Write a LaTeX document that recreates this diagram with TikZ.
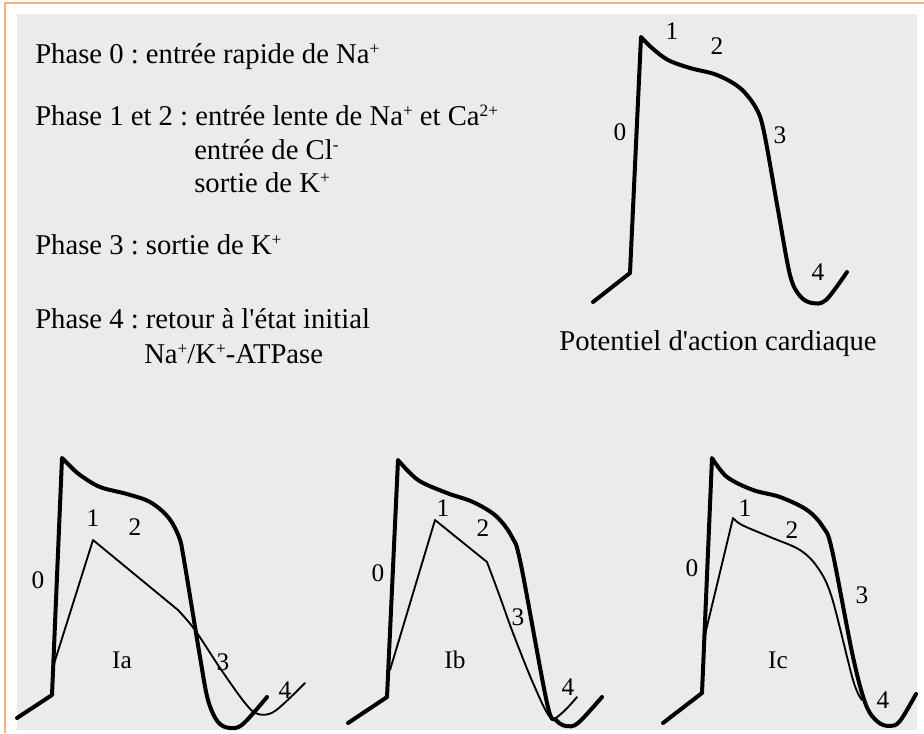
\documentclass[tikz,border=0pt]{standalone}
\usepackage{fontspec}
\setmainfont{Liberation Serif}
\frenchspacing
\definecolor{bordor}{HTML}{F7AE82}
\definecolor{panelgray}{HTML}{EBEBEB}
\newcommand\ionsup[1]{\raisebox{0.62ex}{\fontsize{13}{13}\selectfont #1}}
\begin{document}
\begin{tikzpicture}[x=0.75pt,y=-0.75pt,
  txt/.style={anchor=base west,inner sep=0pt,font=\fontsize{21.5}{25}\selectfont},
  captxt/.style={anchor=base,inner sep=0pt,font=\fontsize{21.5}{25}\selectfont},
  lbl/.style={inner sep=0pt,font=\fontsize{19}{22}\selectfont},
  apthick/.style={line width=3pt,line join=round,line cap=round},
  apthin/.style={line width=1.4pt,line join=round,line cap=round}]
\useasboundingbox (0,0) rectangle (924,733);
\fill[white] (0,0) rectangle (924,733);
\fill[panelgray] (17,14) rectangle (917,730);
\draw[bordor,line width=1.5pt] (4.5,733) -- (4.5,2.5) -- (924,2.5);

% legend text
\node[txt] (t0) at (35,63) {Phase 0 : entrée rapide de Na\ionsup{+}};
\node[txt] (t12) at (35,125) {Phase 1 et 2 : entrée lente de Na\ionsup{+} et Ca\ionsup{2+}};
\node[txt] (t12b) at (194,159) {entrée de Cl\ionsup{-}};
\node[txt] (t12c) at (194,192) {sortie de K\ionsup{+}};
\node[txt] (t3) at (35,254) {Phase 3 : sortie de K\ionsup{+}};
\node[txt] (t4) at (35,328) {Phase 4 : retour à l\textquotesingle état initial};
\node[txt] (t4b) at (144,363) {Na\ionsup{+}/K\ionsup{+}-ATPase};

% main action potential
\draw[apthick] (593,302) -- (630,273) -- (641,37) -- plot[smooth,tension=0.55] coordinates {(641,37) (652,48) (668,60) (690,68) (717,75) (740,88) (756,108) (764,132) (778,210) (790,275) (800,296) (812,303) (826,300) (847,272)};
\node[lbl] (m0) at (620,132) {0};
\node[lbl] (m1) at (672,31) {1};
\node[lbl] (m2) at (717,46) {2};
\node[lbl] (m3) at (780,135) {3};
\node[lbl] (m4) at (818,272) {4};
\node[captxt] (mcap) at (718,350) {Potentiel d\textquotesingle action cardiaque};

% Ia
\draw[apthick] (17,718) -- (52,695) -- (62,458) -- plot[smooth,tension=0.55] coordinates {(62,458) (70,466) (80,475) (100,487) (127,494) (150,502) (168,517) (179,537) (184,560) (200,657) (208,700) (218,722) (230,728) (243,724) (267,697)};
\draw[apthin] (53,667) -- (93,540) -- (178,610) -- plot[smooth,tension=0.55] coordinates {(178,610) (195,630) (220,668) (245,703) (258,714) (275,711) (305,683)};
\node[lbl] (a0) at (38,580) {0};
\node[lbl] (a1) at (93,518) {1};
\node[lbl] (a2) at (135,527) {2};
\node[lbl] (a3) at (223,662) {3};
\node[lbl] (a4) at (285,690) {4};
\node[lbl] (aname) at (122,660) {Ia};

% Ib
\draw[apthick] (348,723) -- (387,697) -- (398,460) -- plot[smooth,tension=0.55] coordinates {(398,460) (418,480) (447,493) (473,502) (496,516) (512,537) (521,565) (547,703) (556,720) (566,726) (578,723) (602,697)};
\draw[apthin] (390,670) -- (435,520) -- (487,562) -- plot[smooth,tension=0.55] coordinates {(487,562) (500,597) (513,633) (533,683) (550,717) (562,713) (577,697)};
\node[lbl] (b0) at (378,573) {0};
\node[lbl] (b1) at (443,508) {1};
\node[lbl] (b2) at (483,528) {2};
\node[lbl] (b3) at (518,617) {3};
\node[lbl] (b4) at (568,687) {4};
\node[lbl] (bname) at (455,660) {Ib};

% Ic
\draw[apthick] (663,723) -- (702,693) -- (712,458) -- plot[smooth,tension=0.55] coordinates {(712,458) (727,477) (753,490) (780,497) (807,510) (823,527) (832,550) (853,657) (866,705) (878,722) (890,726) (900,721) (916,694)};
\draw[apthin] (703,643) -- (733,518) -- plot[smooth,tension=0.55] coordinates {(733,518) (742,525) (770,537) (800,550) (818,568) (832,598) (853,680) (862,700)};
\node[lbl] (c0) at (692,568) {0};
\node[lbl] (c1) at (745,508) {1};
\node[lbl] (c2) at (792,530) {2};
\node[lbl] (c3) at (862,595) {3};
\node[lbl] (c4) at (883,700) {4};
\node[lbl] (cname) at (778,660) {Ic};
\end{tikzpicture}
\end{document}
